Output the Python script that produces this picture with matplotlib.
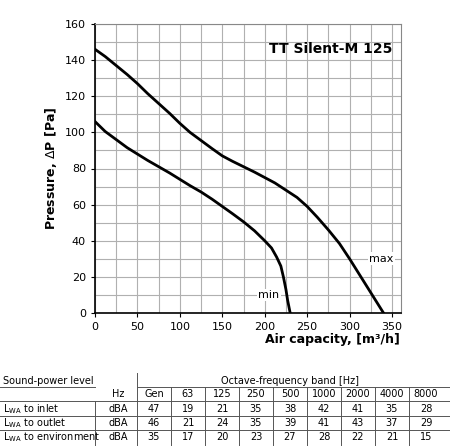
import matplotlib.pyplot as plt
import numpy as np
from matplotlib.lines import Line2D

# fan curves
max_q = [0, 12, 25, 38, 50, 62, 75, 88, 100, 112, 125, 138, 150, 162, 175, 188, 200, 212, 225, 238, 250, 262, 275, 288, 300, 310, 320, 330, 340]
max_p = [146, 142, 137, 132, 127, 121.5, 116, 110.5, 105, 100, 95.5, 91, 87, 84, 81, 78, 75, 72, 68, 64, 59, 53, 46, 38.5, 30, 22.5, 15, 7.5, 0]
min_q = [0, 12, 25, 38, 50, 62, 75, 88, 100, 112, 125, 138, 150, 162, 175, 188, 200, 208, 214, 219, 222, 225, 227, 230]
min_p = [106, 100.5, 96, 91.5, 88, 84.5, 81, 77.5, 74, 70.5, 67, 63, 59, 55, 50.5, 45.5, 40, 36, 31, 26, 20, 13, 7, 0]

bands = ['Gen', '63', '125', '250', '500', '1000', '2000', '4000', '8000']
row_labels = ['to inlet', 'to outlet', 'to environment']
inlet = [47, 19, 21, 35, 38, 42, 41, 35, 28]
outlet = [46, 21, 24, 35, 39, 41, 43, 37, 29]
environment = [35, 17, 20, 23, 27, 28, 22, 21, 15]

W, H = 450, 447
fig = plt.figure(figsize=(4.5, 4.47), dpi=100)
ax = fig.add_axes([95 / W, 1 - 313 / H, (400.5 - 95) / W, (313 - 24) / H])

ax.set_xlim(0, 360)
ax.set_ylim(0, 160)
ax.set_xticks(np.arange(0, 351, 50))
ax.set_yticks(np.arange(0, 161, 20))
ax.set_xticks(np.arange(0, 360, 25), minor=True)
ax.set_yticks(np.arange(0, 160, 10), minor=True)
ax.grid(which='both', color='#b0b0b0', lw=0.8)
ax.tick_params(which='minor', length=0)
ax.tick_params(labelsize=8, length=3)
for s in ax.spines.values():
    s.set_color('#888888')
ax.spines['left'].set_color('black')
ax.spines['bottom'].set_color('black')
ax.spines['left'].set_linewidth(1.2)
ax.spines['bottom'].set_linewidth(1.2)

ax.plot(max_q, max_p, color='black', lw=2, solid_joinstyle='round')
ax.plot(min_q, min_p, color='black', lw=2, solid_joinstyle='round')
box = dict(facecolor='white', edgecolor='none', pad=1)
ax.text(323, 30, 'max', fontsize=8, ha='left', va='center', bbox=box)
ax.text(205, 10, 'min', fontsize=8, ha='center', va='center', bbox=box)
ax.text(350, 146, 'TT Silent-M 125', fontsize=10, fontweight='bold', ha='right', va='center')
ax.set_ylabel('Pressure, $\\Delta$P [Pa]', fontsize=9, fontweight='bold')
fig.text(400 / W, 1 - 340 / H, 'Air capacity, [m³/h]', fontsize=9, fontweight='bold', ha='right', va='center')


def fx(px):
    return px / W


def fy(py):
    return 1 - py / H


def hline(y, x0, x1):
    fig.add_artist(Line2D([fx(x0), fx(x1)], [fy(y), fy(y)], color='#555555', lw=0.7))


def vline(x, y0, y1):
    fig.add_artist(Line2D([fx(x), fx(x)], [fy(y0), fy(y1)], color='#555555', lw=0.7))


fs = 7
centers = [154 + 34 * i for i in range(len(bands))]
fig.text(fx(3), fy(381), 'Sound-power level', fontsize=fs, va='center')
fig.text(fx(290), fy(381), 'Octave-frequency band [Hz]', fontsize=fs, ha='center', va='center')
fig.text(fx(118), fy(394), 'Hz', fontsize=fs, ha='center', va='center')
rows_y = [409, 423, 437]
for y, lab, vals in zip(rows_y, row_labels, [inlet, outlet, environment]):
    fig.text(fx(3), fy(y), '$\\mathregular{L_{WA}}$ ' + lab, fontsize=fs, va='center')
    fig.text(fx(118), fy(y), 'dBA', fontsize=fs, ha='center', va='center')
    for c, v in zip(centers, vals):
        fig.text(fx(c), fy(y), str(v), fontsize=fs, ha='center', va='center')
for c, b in zip(centers, bands):
    fig.text(fx(c), fy(394), b, fontsize=fs, ha='center', va='center')

hline(387, 0, 95)
hline(387, 137, 450)
for y in [401, 416, 430]:
    hline(y, 0, 450)
vline(137, 373, 445)
vline(95, 401, 445)
for c in centers[:-1]:
    vline(c + 17, 387, 445)

fig.savefig('out.png', dpi=100)
